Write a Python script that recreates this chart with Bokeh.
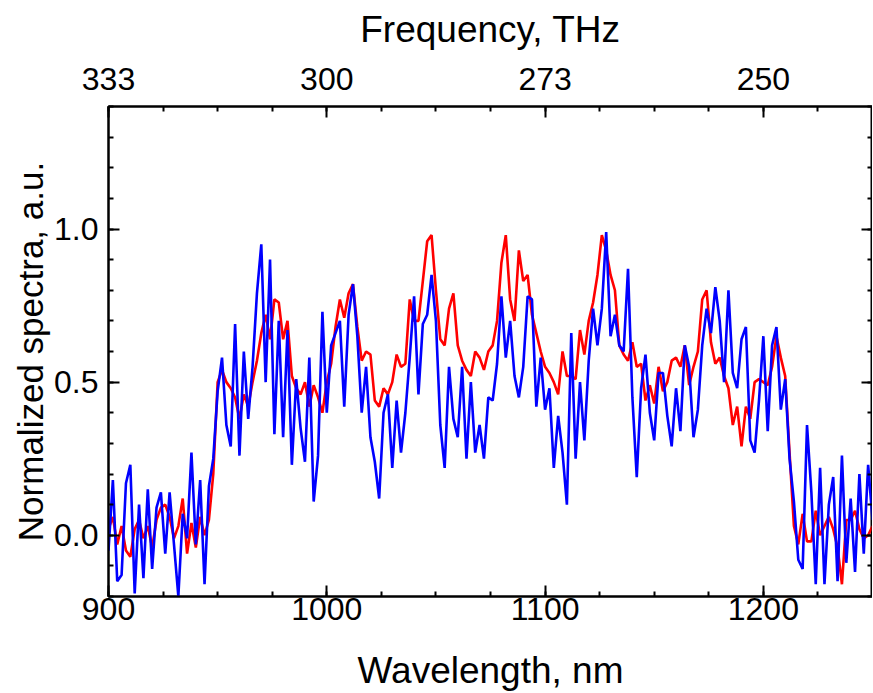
import numpy as np
from bokeh.plotting import figure
from bokeh.models import LinearAxis, FixedTicker, Range1d
from bokeh.embed import file_html
from bokeh.resources import INLINE

# ---------------- data ----------------
wavelength = list(range(900, 1251, 2))

red = [
    0.02, 0.06, -0.03, 0.03, -0.05, -0.07, 0.02, 0.05, -0.01, 0.03,   # 900-918
    -0.04, 0.05, 0.09, 0.10, 0.06, -0.01, 0.03, 0.12, -0.06, 0.04,   # 920-938
    -0.04, 0.06, 0.00, 0.05, 0.20, 0.50, 0.54, 0.50, 0.48, 0.45,     # 940-958
    0.38, 0.46, 0.42, 0.50, 0.57, 0.66, 0.72, 0.64, 0.77, 0.76,      # 960-978
    0.64, 0.70, 0.52, 0.48, 0.46, 0.50, 0.42, 0.49, 0.45, 0.40,      # 980-998
    0.50, 0.56, 0.68, 0.77, 0.71, 0.79, 0.82, 0.68, 0.57, 0.60,      # 1000-1018
    0.59, 0.44, 0.42, 0.48, 0.46, 0.50, 0.59, 0.55, 0.56, 0.77,      # 1020-1038
    0.70, 0.70, 0.83, 0.96, 0.98, 0.80, 0.64, 0.62, 0.74, 0.79,      # 1040-1058
    0.62, 0.57, 0.54, 0.52, 0.60, 0.58, 0.54, 0.60, 0.62, 0.70,      # 1060-1078
    0.89, 0.98, 0.77, 0.70, 0.93, 0.83, 0.85, 0.72, 0.66, 0.60,      # 1080-1098
    0.55, 0.53, 0.50, 0.46, 0.60, 0.52, 0.52, 0.51, 0.67, 0.59,      # 1100-1118
    0.70, 0.76, 0.85, 0.98, 0.93, 0.85, 0.80, 0.62, 0.59, 0.57,      # 1120-1138
    0.63, 0.55, 0.56, 0.44, 0.49, 0.43, 0.55, 0.47, 0.50, 0.57,      # 1140-1158
    0.58, 0.55, 0.62, 0.49, 0.55, 0.60, 0.77, 0.80, 0.63, 0.56,      # 1160-1178
    0.58, 0.52, 0.48, 0.36, 0.42, 0.29, 0.42, 0.38, 0.50, 0.51,      # 1180-1198
    0.50, 0.49, 0.55, 0.65, 0.58, 0.52, 0.27, 0.03, -0.03, 0.07,     # 1200-1218
    -0.02, -0.02, 0.08, 0.00, 0.03, 0.06, 0.02, -0.04, -0.16, 0.05,  # 1220-1238
    0.05, 0.08, 0.02, -0.01, 0.00, 0.03,                              # 1240-1250
]

blue = [
    -0.05, 0.18, -0.15, -0.13, 0.17, 0.23, -0.19, 0.10, -0.14, 0.15, # 900-918
    -0.11, 0.09, 0.14, -0.06, 0.14, -0.03, -0.20, 0.07, -0.01, 0.27, # 920-938
    -0.03, 0.18, -0.16, 0.16, 0.25, 0.47, 0.58, 0.36, 0.29, 0.69,    # 940-958
    0.26, 0.60, 0.38, 0.55, 0.79, 0.95, 0.50, 0.90, 0.33, 0.70,      # 960-978
    0.32, 0.67, 0.23, 0.51, 0.35, 0.24, 0.58, 0.11, 0.26, 0.73,      # 980-998
    0.40, 0.62, 0.66, 0.70, 0.42, 0.72, 0.82, 0.65, 0.40, 0.55,      # 1000-1018
    0.32, 0.24, 0.12, 0.40, 0.46, 0.22, 0.44, 0.27, 0.40, 0.58,      # 1020-1038
    0.78, 0.46, 0.69, 0.72, 0.85, 0.70, 0.36, 0.22, 0.55, 0.38,      # 1040-1058
    0.32, 0.55, 0.25, 0.50, 0.27, 0.36, 0.25, 0.45, 0.44, 0.56,      # 1060-1078
    0.78, 0.58, 0.70, 0.52, 0.45, 0.55, 0.78, 0.77, 0.42, 0.58,      # 1080-1098
    0.41, 0.48, 0.22, 0.39, 0.27, 0.10, 0.66, 0.25, 0.50, 0.31,      # 1100-1118
    0.57, 0.74, 0.62, 0.74, 0.99, 0.65, 0.72, 0.62, 0.60, 0.87,      # 1120-1138
    0.45, 0.19, 0.48, 0.59, 0.40, 0.31, 0.53, 0.53, 0.39, 0.29,      # 1140-1158
    0.48, 0.34, 0.62, 0.55, 0.32, 0.41, 0.62, 0.74, 0.66, 0.81,      # 1160-1178
    0.70, 0.50, 0.80, 0.53, 0.48, 0.64, 0.68, 0.31, 0.27, 0.44,      # 1180-1198
    0.65, 0.34, 0.62, 0.68, 0.41, 0.51, 0.25, 0.11, -0.08, -0.11,    # 1200-1218
    0.36, 0.14, -0.16, 0.22, -0.16, 0.10, 0.19, -0.15, 0.26, -0.09,  # 1220-1238
    0.12, -0.12, 0.20, -0.06, 0.23, 0.05,                             # 1240-1250
]

wl_ticks = [900, 1000, 1100, 1200]
freq_labels = ["333", "300", "273", "250"]
y_major = [0.0, 0.5, 1.0]
y_labels = ["0.0", "0.5", "1.0"]

FONT = "Liberation Sans"

p = figure(frame_width=764, frame_height=490, output_backend="svg", toolbar_location=None,
           x_range=Range1d(900, 1250), y_range=Range1d(-0.2, 1.4),
           min_border_left=108, min_border_top=106, min_border_bottom=90,
           min_border_right=0, x_axis_location=None, y_axis_location=None)
p.xgrid.visible = False
p.ygrid.visible = False
p.outline_line_color = "black"
p.outline_line_width = 2
p.background_fill_color = "white"
p.border_fill_color = "white"

p.line(wavelength, red, line_color="#ff0000", line_width=2.6)
p.line(wavelength, blue, line_color="#0000ff", line_width=2.6)

x_minor = list(range(900, 1251, 25))
y_minor = [round(-0.2 + 0.1 * i, 1) for i in range(17)]


def style(ax, title_size="37px"):
    ax.axis_line_color = "black"
    ax.axis_line_width = 2
    ax.major_tick_line_color = "black"
    ax.major_tick_line_width = 2
    ax.minor_tick_line_color = "black"
    ax.minor_tick_line_width = 2
    ax.major_tick_in = 11
    ax.major_tick_out = 0
    ax.minor_tick_in = 5
    ax.minor_tick_out = 0
    ax.major_label_text_font = FONT
    ax.major_label_text_font_size = "32px"
    ax.major_label_text_color = "black"
    ax.axis_label_text_font = FONT
    ax.axis_label_text_font_size = title_size
    ax.axis_label_text_font_style = "normal"
    ax.axis_label_text_color = "black"


xb = LinearAxis(ticker=FixedTicker(ticks=wl_ticks, minor_ticks=x_minor),
                axis_label="Wavelength, nm")
style(xb)
xb.major_label_standoff = 1
xb.axis_label_standoff = 27
p.add_layout(xb, "below")

xt = LinearAxis(ticker=FixedTicker(ticks=wl_ticks, minor_ticks=x_minor),
                axis_label="Frequency, THz",
                major_label_overrides={t: l for t, l in zip(wl_ticks, freq_labels)})
style(xt)
xt.major_label_standoff = 17
xt.axis_label_standoff = 15
p.add_layout(xt, "above")

yl = LinearAxis(ticker=FixedTicker(ticks=y_major, minor_ticks=y_minor),
                axis_label="Normalized spectra, a.u.",
                major_label_overrides={t: l for t, l in zip(y_major, y_labels)})
style(yl, title_size="35px")
yl.major_label_standoff = 10
yl.axis_label_standoff = 1
p.add_layout(yl, "left")

yr = LinearAxis(ticker=FixedTicker(ticks=y_major, minor_ticks=y_minor),
                major_label_overrides={t: "" for t in y_major})
style(yr)
yr.major_label_standoff = 0
p.add_layout(yr, "right")

open("out.html", "w").write(file_html(p, INLINE))
